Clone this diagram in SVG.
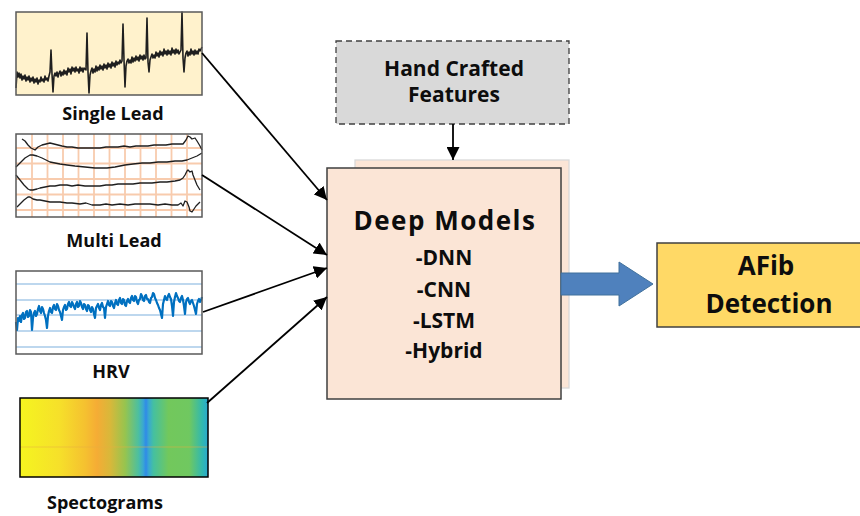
<svg xmlns="http://www.w3.org/2000/svg" width="860" height="516" viewBox="0 0 860 516">
<style>
.lbl{font-family:"Open Sans","Liberation Sans",sans-serif;font-weight:700;fill:#0d0d0d;text-anchor:middle}
.conn{stroke:#000;stroke-width:1.8;fill:none}
.frame{fill:none;stroke:#595959;stroke-width:1.5}
.ecg{fill:none;stroke:#1f1f1f;stroke-width:1.3;stroke-linejoin:round}
.grid{stroke:#f8cbad;stroke-width:1.8}
.hrvl{stroke:#bdd7ee;stroke-width:2}
</style>
<defs>
<marker id="ah" markerUnits="userSpaceOnUse" markerWidth="15" markerHeight="13" refX="13" refY="6.5" orient="auto">
<path d="M0,0 L13,6.5 L0,13 z" fill="#000"/>
</marker>
<linearGradient id="spec" x1="0" y1="0" x2="1" y2="0">
<stop offset="0" stop-color="#f5f51f"/>
<stop offset="0.21" stop-color="#f6e02a"/>
<stop offset="0.35" stop-color="#f5c030"/>
<stop offset="0.41" stop-color="#f5ac35"/>
<stop offset="0.48" stop-color="#d8b83a"/>
<stop offset="0.56" stop-color="#96c44f"/>
<stop offset="0.63" stop-color="#4cbfa0"/>
<stop offset="0.655" stop-color="#3aa8d0"/>
<stop offset="0.67" stop-color="#2f8ae8"/>
<stop offset="0.685" stop-color="#3aa8d0"/>
<stop offset="0.71" stop-color="#45c0a0"/>
<stop offset="0.79" stop-color="#72c85c"/>
<stop offset="0.9" stop-color="#70c860"/>
<stop offset="0.97" stop-color="#30b8b0"/>
<stop offset="1" stop-color="#2aa8d0"/>
</linearGradient>
</defs>

<g id="single-lead">
<rect x="16" y="12" width="186" height="83" fill="#fff2cc"/>
<polyline fill="none" stroke="#1f1f1f" stroke-width="1.6" stroke-linejoin="round" points="16,88 17,72 18,77 19,73 20,78 21,74 22,80 23,76 24,79 25,75 26,81 27,77 28,80 29,76 30,82 31,78 32,81 33,77 34,83 35,79 36,82 37,78 38,84 39,80 40,82 41,77 42,81 43,79 44,82 45,76 46,80 47,78 48,81 49,76 50,72 51,50 52,74 53,92 54,76 55,73 56,76 57,72 58,77 59,73 60,71 61,76 62,72 63,75 64,70 65,74 66,71 67,75 68,68 69,72 70,69 71,74 72,67 73,71 74,68 75,72 76,67 77,71 78,69 79,73 80,67 81,71 82,68 83,72 84,68 86,70 87,33 88,72 89,93 90,75 91,71 92,68 93,73 94,69 95,72 96,66 97,71 98,67 99,70 100,65 101,69 102,66 103,70 104,64 105,68 106,65 107,69 108,63 109,67 110,64 111,68 112,62 113,66 114,63 115,67 116,61 117,65 118,62 119,64 120,60 121,63 122,61 123,24 124,60 125,87 126,66 127,61 128,59 129,63 130,60 131,63 132,57 133,62 134,58 135,61 136,56 137,60 138,57 139,61 140,55 141,59 142,56 143,60 144,55 145,59 146,58 147,18 148,62 149,72 150,60 151,57 152,54 153,58 154,55 155,58 156,52 157,56 158,53 159,57 160,51 161,55 162,52 163,56 164,49 165,54 166,51 167,55 168,50 169,54 170,51 171,55 172,48 173,53 174,50 175,54 176,49 177,53 178,50 179,54 180,52 181,50 182,12 183,58 184,72 185,58 186,53 187,51 188,56 189,52 190,55 191,49 192,54 193,51 194,55 195,50 196,54 197,51 198,54 199,49 200,51 202,47"/>
<rect class="frame" x="16" y="12" width="186" height="83"/>
<text class="lbl" x="113" y="120" font-size="18">Single Lead</text>
</g>

<g id="multi-lead">
<rect x="16" y="134" width="186" height="83" fill="#fff"/>
<g class="grid">
<line x1="32" y1="134" x2="32" y2="217"/><line x1="47.5" y1="134" x2="47.5" y2="217"/><line x1="63" y1="134" x2="63" y2="217"/><line x1="78.5" y1="134" x2="78.5" y2="217"/><line x1="94" y1="134" x2="94" y2="217"/><line x1="109.5" y1="134" x2="109.5" y2="217"/><line x1="125" y1="134" x2="125" y2="217"/><line x1="140.5" y1="134" x2="140.5" y2="217"/><line x1="156" y1="134" x2="156" y2="217"/><line x1="171.5" y1="134" x2="171.5" y2="217"/><line x1="187" y1="134" x2="187" y2="217"/>
<line x1="16" y1="148" x2="202" y2="148"/><line x1="16" y1="163.5" x2="202" y2="163.5"/><line x1="16" y1="179" x2="202" y2="179"/><line x1="16" y1="194.5" x2="202" y2="194.5"/><line x1="16" y1="210" x2="202" y2="210"/>
</g>
<polyline class="ecg" points="22,139 25,141 28,145 31,148 35,150 38,147 42,145 46,144 50,143 54,144 58,145 62,146 67,147 72,147 78,148 84,148 90,148 96,148 100,148 106,147 112,147 118,147 124,146 130,147 136,146 142,146 148,146 154,145 160,145 166,145 172,144 178,144 183,144 186,140 188,136 190,137 192,139 195,138 197,141 200,146 202,150"/>
<polyline class="ecg" points="16,167 20,163 25,158 30,155 33,155 37,156 42,158 46,160 50,162 55,163 60,164 67,165 75,166 85,167 95,168 107,168 115,167 125,165 133,164 142,163 150,163 158,162 167,162 175,161 182,161 187,160 192,158 197,156 202,153"/>
<polyline class="ecg" points="16,175 20,180 24,185 28,189 30,190 33,190 37,189 40,188 45,187 50,186 55,186 60,185 67,185 72,186 78,185 85,186 92,186 100,186 106,185 112,185 118,184 125,184 133,184 140,183 146,183 152,183 160,182 167,182 175,181 180,180 183,178 185,175 187,171 188,170 190,172 192,171 193,175 195,180 197,185 200,190"/>
<polyline class="ecg" points="17,207 20,204 24,200 28,197 30,197 33,199 37,200 40,200 45,201 50,202 55,202 60,202 67,203 72,203 80,204 86,203 92,205 100,205 106,204 112,205 120,204 128,205 135,204 142,204 150,204 158,205 165,204 172,205 178,205 181,203 183,206 185,201 187,202 189,207 190,211 192,212 194,209 196,206 198,204 200,202"/>
<rect class="frame" x="16" y="134" width="186" height="83"/>
<text class="lbl" x="114" y="247" font-size="18">Multi Lead</text>
</g>

<g id="hrv">
<rect x="16" y="271" width="186" height="83" fill="#fff"/>
<g class="hrvl">
<line x1="16" y1="284" x2="202" y2="284"/><line x1="16" y1="300" x2="202" y2="300"/><line x1="16" y1="315" x2="202" y2="315"/><line x1="16" y1="331" x2="202" y2="331"/><line x1="16" y1="347" x2="202" y2="347"/>
</g>
<polyline fill="none" stroke="#0070c0" stroke-width="2.2" stroke-linejoin="round" points="16,322 17,330 18,318 19,321 20,316 21,322 22,315 23,313 24,319 25,318 26,312 27,311 28,317 29,316 30,310 31,312 32,330 33,318 34,313 35,311 36,316 37,314 38,309 39,306 40,311 41,313 42,307 43,309 44,313 45,316 46,320 47,328 48,316 49,311 50,308 51,312 52,313 53,307 54,305 55,309 56,310 57,304 58,306 59,310 60,312 61,316 62,320 63,310 64,307 65,305 66,310 67,309 68,304 69,302 70,306 71,307 72,302 73,304 74,307 75,309 76,304 77,302 78,307 79,306 80,301 81,303 82,307 83,309 84,304 85,305 86,309 87,311 88,305 89,306 90,310 91,312 92,307 93,309 94,314 95,318 96,308 97,306 98,304 99,308 100,310 101,305 102,303 103,307 104,308 105,318 106,307 107,304 108,301 109,305 110,306 111,301 112,302 113,306 114,308 115,303 116,300 117,304 118,305 119,300 120,298 121,303 122,304 123,299 124,300 125,305 126,306 127,301 128,299 129,302 130,303 131,298 132,296 133,300 134,301 135,296 136,297 137,302 138,304 139,300 140,299 141,294 142,296 143,300 144,301 145,296 146,295 147,299 148,299 149,302 150,303 151,298 152,297 153,293 154,294 155,298 156,300 157,303 158,305 159,308 160,310 161,314 162,318 163,304 164,300 165,296 166,299 167,300 168,296 169,294 170,297 171,299 172,306 173,316 174,302 175,297 176,293 177,296 178,298 179,301 180,302 181,298 182,296 183,300 184,306 185,314 186,302 187,299 188,298 189,302 190,304 191,301 192,300 193,303 194,306 195,310 196,314 197,304 198,301 199,299 200,302 201,300 202,297"/>
<rect class="frame" x="16" y="271" width="186" height="83"/>
<text class="lbl" x="111" y="378" font-size="18">HRV</text>
</g>

<g id="spectrograms">
<rect x="20" y="398" width="188" height="79" fill="url(#spec)"/>
<line x1="20" y1="447" x2="208" y2="447" stroke="#e8b040" stroke-width="1" opacity="0.5"/>
<rect x="20" y="398" width="188" height="79" fill="none" stroke="#000" stroke-width="1.5"/>
<text class="lbl" x="105" y="509" font-size="18">Spectograms</text>
</g>

<g id="hand-crafted">
<rect x="336" y="41" width="233" height="83" fill="#d9d9d9" stroke="#404040" stroke-width="1.3" stroke-dasharray="6,4"/>
<text class="lbl" x="454" y="76" font-size="21">Hand Crafted</text>
<text class="lbl" x="454" y="102" font-size="21">Features</text>
</g>

<g id="deep-models">
<rect x="355" y="160" width="214" height="228" fill="#fbe5d6" stroke="#d9d9d9" stroke-width="1.3"/>
<rect x="327" y="168" width="234" height="231" fill="#fbe5d6" stroke="#3f3f3f" stroke-width="1.5"/>
<text class="lbl" x="445" y="230" font-size="26" letter-spacing="1.5">Deep Models</text>
<text class="lbl" x="444" y="265" font-size="21">-DNN</text>
<text class="lbl" x="444" y="297" font-size="21">-CNN</text>
<text class="lbl" x="444" y="328" font-size="21">-LSTM</text>
<text class="lbl" x="444" y="358" font-size="21">-Hybrid</text>
</g>

<g id="afib">
<rect x="657" y="243" width="210" height="84" fill="#ffd966" stroke="#404040" stroke-width="1.5"/>
<text class="lbl" x="766" y="275" font-size="26">AFib</text>
<text class="lbl" x="769" y="313" font-size="26">Detection</text>
</g>

<g id="connectors">
<line class="conn" x1="202" y1="53" x2="327" y2="200" marker-end="url(#ah)"/>
<line class="conn" x1="202" y1="175" x2="327" y2="255" marker-end="url(#ah)"/>
<line class="conn" x1="203" y1="312" x2="327" y2="268" marker-end="url(#ah)"/>
<line class="conn" x1="207" y1="403" x2="327" y2="297" marker-end="url(#ah)"/>
<line class="conn" x1="453" y1="124" x2="453" y2="160" marker-end="url(#ah)"/>
<polygon points="561,273 619,273 619,262 653,284 619,306 619,295 561,295" fill="#4f81bd" stroke="#41719c" stroke-width="1"/>
</g>
</svg>
